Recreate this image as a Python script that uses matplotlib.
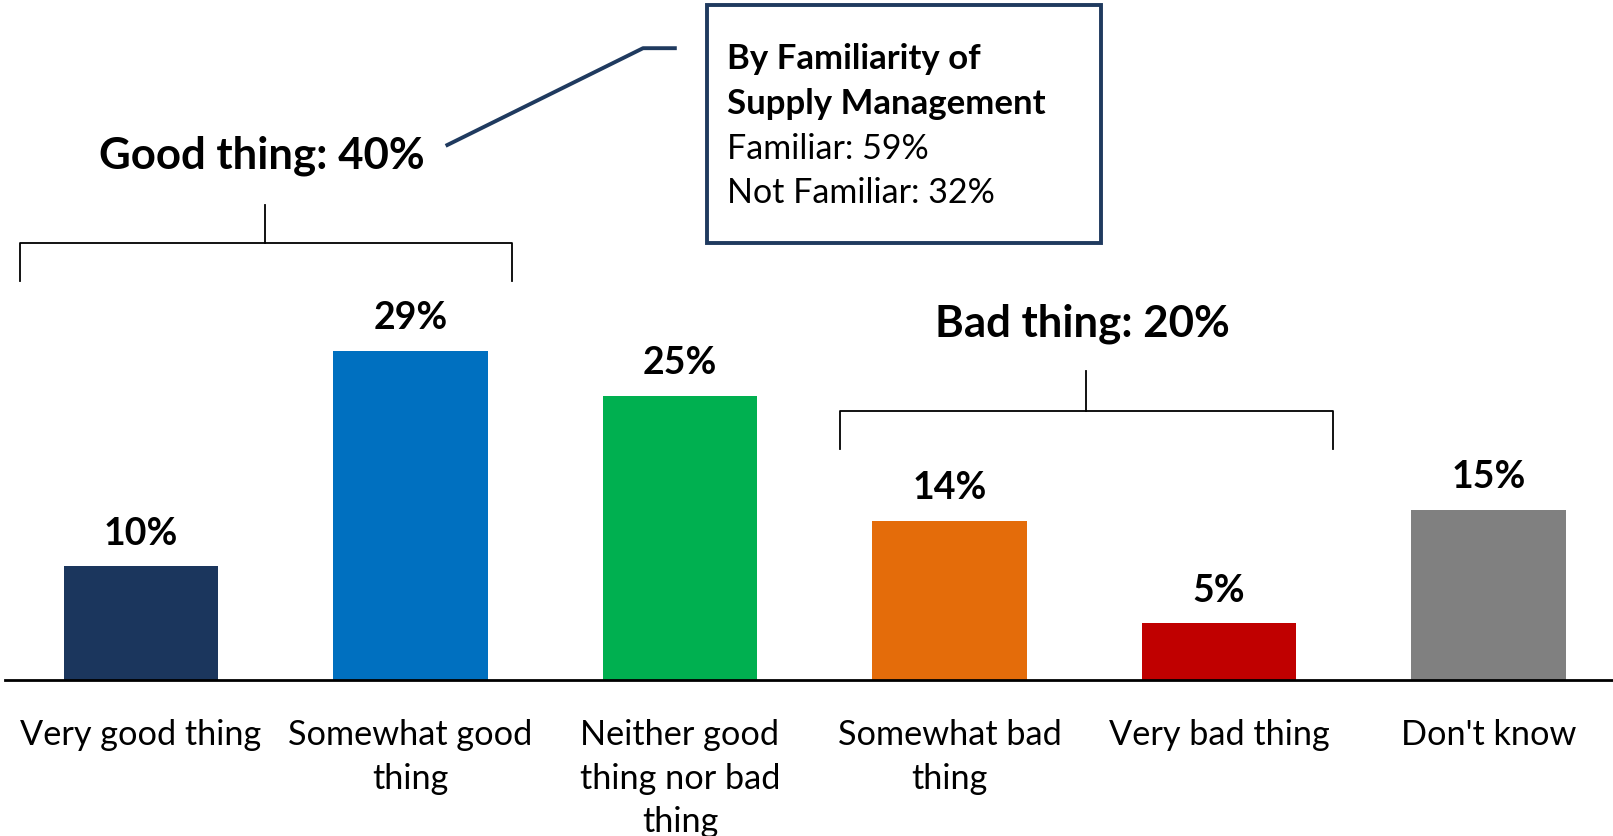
import matplotlib
matplotlib.use("Agg")
import matplotlib.pyplot as plt
from matplotlib.patches import Rectangle

plt.rcParams['font.family'] = ['Lato', 'DejaVu Sans']

# ---------------------------------- Data ---------------------------------- #
categories = ["Very good thing", "Somewhat good\nthing", "Neither good\nthing nor bad\nthing",
              "Somewhat bad\nthing", "Very bad thing", "Don't know"]
values = [10, 29, 25, 14, 5, 15]
colors = ["#1B365D", "#0070C0", "#00B050", "#E46C0A", "#C00000", "#808080"]

good_label = "Good thing: 40%"
bad_label = "Bad thing: 20%"
box_lines = ["By Familiarity of", "Supply Management", "Familiar: 59%", "Not Familiar: 32%"]
box_bold = [True, True, False, False]

navy = "#1F3A5F"

# ---------------------------------- Plot ---------------------------------- #
fig = plt.figure(figsize=(16.13, 8.37), dpi=100)
ax = fig.add_axes([0, 0, 1, 1])
ax.set_xlim(-0.523, 5.462)
ax.set_ylim(-13.73, 59.95)
ax.axis('off')

x = list(range(len(values)))
ax.bar(x, values, width=0.573, color=colors, zorder=2)
ax.plot([-0.504, 5.6], [0, 0], color='black', lw=2, zorder=3)

# value labels
for i, v in enumerate(values):
    ax.text(i, v + 2.0, f"{v}%", ha='center', va='baseline', fontsize=27, fontweight='bold')

# category labels
for i, c in enumerate(categories):
    ax.text(i, -3.35, c, ha='center', va='top', fontsize=24.7, linespacing=1.45)

# brackets
def bracket(x0, x1, xm, y, y_end, y_tick):
    ax.plot([x0, x0, x1, x1], [y_end, y, y, y_end], color='black', lw=1.3)
    ax.plot([xm, xm], [y, y_tick], color='black', lw=1.3)

bracket(-0.450, 1.378, 0.462, 38.50, 35.14, 41.85)
bracket(2.595, 4.424, 3.508, 23.64, 20.38, 27.17)

ax.text(0.450, 46.2, good_label, ha='center', va='center', fontsize=31.5, fontweight='bold')
ax.text(3.492, 31.45, bad_label, ha='center', va='center', fontsize=31.5, fontweight='bold')

# connector line and box
ax.plot([1.137, 1.863, 1.981], [47.10, 55.62, 55.62], color=navy, lw=2.8)
ax.add_patch(Rectangle((2.099, 38.50), 3.561 - 2.099, 59.42 - 38.50,
                       fill=False, edgecolor=navy, lw=2.8))
box_y = [54.80, 50.82, 46.83, 42.93]
for txt, yy, b in zip(box_lines, box_y, box_bold):
    ax.text(2.176, yy, txt, ha='left', va='center', fontsize=25 if b else 24.5,
            fontweight='bold' if b else 'normal')

fig.savefig("out.png", dpi=100)
